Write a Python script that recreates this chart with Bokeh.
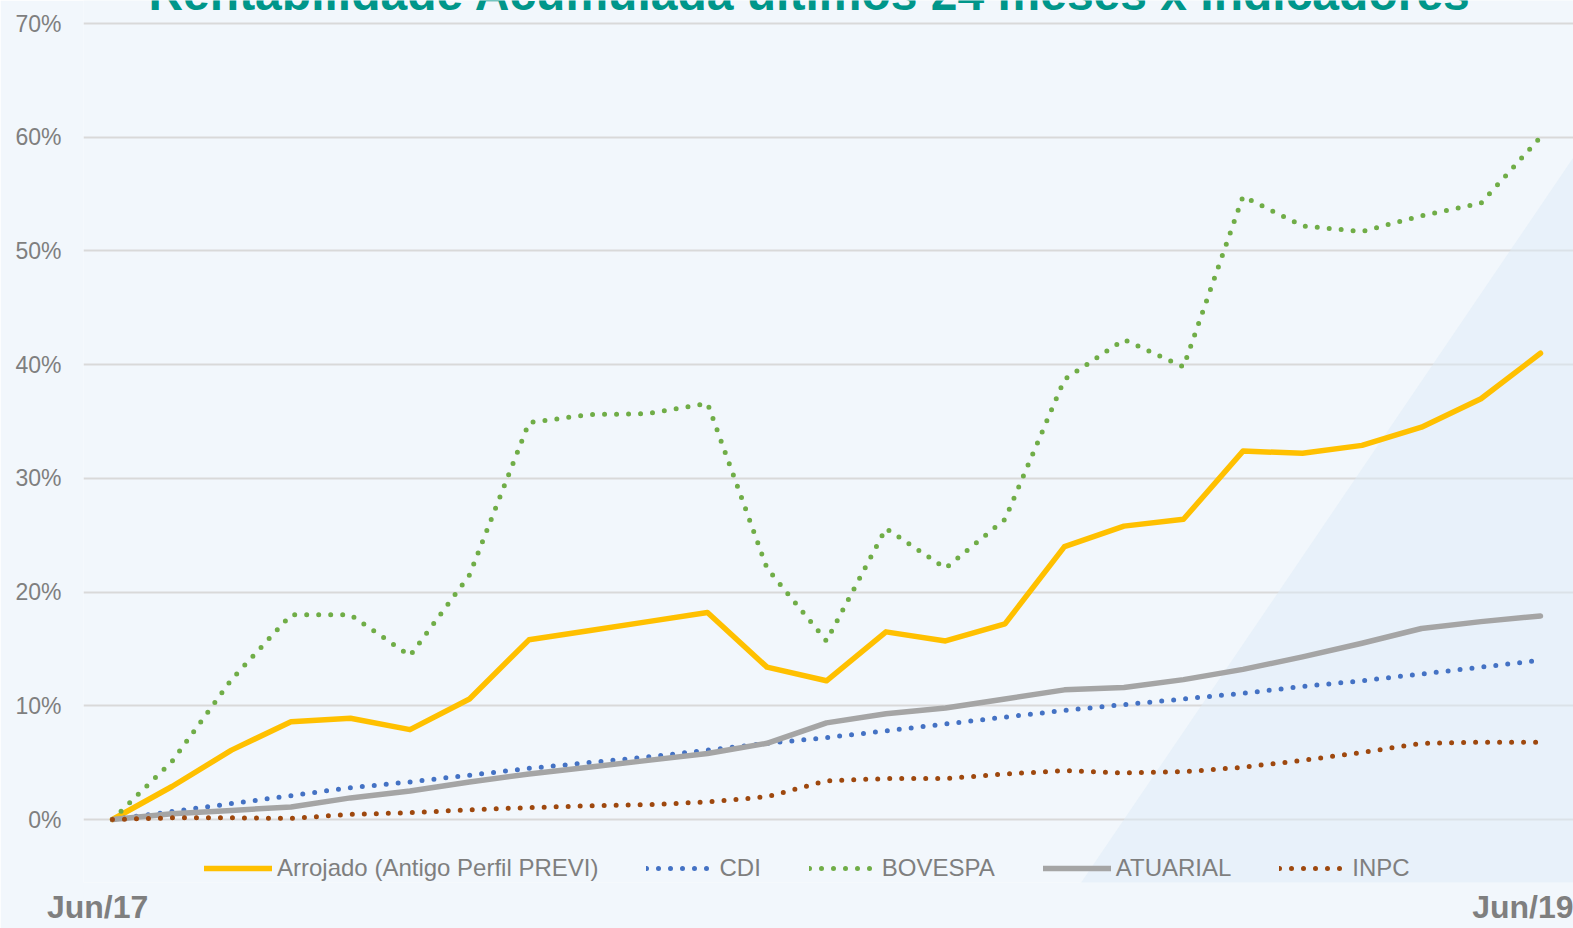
from bokeh.plotting import figure
from bokeh.models import (FixedTicker, PrintfTickFormatter, Legend, LegendItem,
                          Label, PolyAnnotation, Range1d, LinearAxis)
from bokeh.embed import file_html
from bokeh.resources import INLINE

title_text = "Rentabilidade Acumulada últimos 24 meses x Indicadores"
months = ["Jun/17", "Jul/17", "Ago/17", "Set/17", "Out/17", "Nov/17", "Dez/17",
          "Jan/18", "Fev/18", "Mar/18", "Abr/18", "Mai/18", "Jun/18", "Jul/18",
          "Ago/18", "Set/18", "Out/18", "Nov/18", "Dez/18", "Jan/19", "Fev/19",
          "Mar/19", "Abr/19", "Mai/19", "Jun/19"]

arrojado = [0, 2.9, 6.1, 8.6, 8.9, 7.9, 10.6, 15.8, 16.6, 17.4, 18.2, 13.4, 12.2,
            16.5, 15.7, 17.2, 24.0, 25.8, 26.4, 32.4, 32.2, 32.9, 34.5, 37.0, 41.0]
cdi = [0, 0.7, 1.4, 2.1, 2.8, 3.3, 3.9, 4.5, 5.0, 5.5, 6.1, 6.7, 7.2,
       7.8, 8.4, 9.0, 9.6, 10.1, 10.6, 11.1, 11.7, 12.2, 12.8, 13.4, 14.0]
bovespa = [0, 5.1, 12.3, 18.0, 18.0, 14.4, 21.5, 34.9, 35.6, 35.7, 36.6, 22.1, 15.7,
           25.6, 22.1, 26.4, 38.7, 42.2, 39.8, 54.8, 52.2, 51.7, 53.1, 54.2, 60.0]
atuarial = [0, 0.5, 0.8, 1.1, 1.9, 2.5, 3.3, 4.0, 4.6, 5.2, 5.8, 6.7, 8.5,
            9.3, 9.8, 10.6, 11.4, 11.6, 12.3, 13.2, 14.3, 15.5, 16.8, 17.4, 17.9]
inpc = [0, 0.15, 0.15, 0.1, 0.45, 0.6, 0.85, 1.05, 1.2, 1.3, 1.55, 2.0, 3.4,
        3.6, 3.6, 4.0, 4.3, 4.1, 4.2, 4.6, 5.2, 5.9, 6.7, 6.8, 6.8]
series_names = ["Arrojado (Antigo Perfil PREVI)", "CDI", "BOVESPA", "ATUARIAL", "INPC"]
y_ticks = [0, 10, 20, 30, 40, 50, 60, 70]

x = list(range(len(months)))

W, H = 1573, 928
FONT = "Liberation Sans"
GRAY = "#7F7F7F"
BG = "#F2F7FC"
BOTTOM = 46            # height reserved for the period labels
LABEL_SHIFT = -0.25    # period labels sit slightly left of their point

p = figure(width=W, height=H, output_backend="svg", toolbar_location=None,
           x_axis_location=None,
           x_range=Range1d(-0.487, 24.555), y_range=Range1d(-5.54, 72.023),
           min_border_left=83, min_border_right=0, min_border_top=0,
           min_border_bottom=BOTTOM)
p.background_fill_color = BG
p.border_fill_color = BG
p.outline_line_color = None

# background diagonal band (decorative)
band = PolyAnnotation(xs=[957, 1500, 1500], ys=[-60, 740, -60],
                      xs_units="screen", ys_units="screen",
                      fill_color="#DDEBF7", fill_alpha=0.5, line_alpha=0, level="underlay")
p.add_layout(band)

# y axis
p.yaxis.ticker = FixedTicker(ticks=y_ticks)
p.yaxis.formatter = PrintfTickFormatter(format="%d%%")
p.yaxis.axis_line_color = None
p.yaxis.major_tick_line_color = None
p.yaxis.minor_tick_line_color = None
p.yaxis.major_label_text_font = FONT
p.yaxis.major_label_text_font_size = "23px"
p.yaxis.major_label_text_color = GRAY
p.yaxis.major_label_standoff = 16

# x axis: only first and last period
tick_pos = [x[0] + LABEL_SHIFT, x[-1] + LABEL_SHIFT]
xaxis = LinearAxis(ticker=FixedTicker(ticks=tick_pos),
                   major_label_overrides={tick_pos[0]: months[0], tick_pos[1]: months[-1]},
                   axis_line_color=None, major_tick_line_color=None,
                   minor_tick_line_color=None, major_label_standoff=0,
                   major_label_text_line_height=1.0,
                   major_label_text_font=FONT, major_label_text_font_size="32px",
                   major_label_text_font_style="bold", major_label_text_color=GRAY)
p.add_layout(xaxis, "below")

p.xgrid.grid_line_color = None
p.ygrid.grid_line_color = "#D9D9D9"
p.ygrid.grid_line_width = 2

# series
r1 = p.line(x, arrojado, line_color="#FFC000", line_width=5.5, line_join="round", line_cap="round")
r2 = p.line(x, cdi, line_color="#4472C4", line_width=5, line_dash="0 12", line_cap="round")
r3 = p.line(x, bovespa, line_color="#70AD47", line_width=5, line_dash="0 12", line_cap="round")
r4 = p.line(x, atuarial, line_color="#A5A5A5", line_width=5.5, line_join="round", line_cap="round")
r5 = p.line(x, inpc, line_color="#9E480E", line_width=5, line_dash="0 12", line_cap="round")

legend = Legend(items=[LegendItem(label=n, renderers=[r]) for n, r in
                       zip(series_names, [r1, r2, r3, r4, r5])],
                orientation="horizontal", location=(121, 0),
                label_text_font=FONT, label_text_font_size="24px",
                label_text_line_height=1.0,
                label_text_color=GRAY, glyph_width=68, glyph_height=20,
                label_height=20, label_standoff=5, spacing=48, padding=0, margin=0,
                border_line_alpha=0, background_fill_alpha=0)
p.add_layout(legend)

title = Label(x=726.5, y=72.6, x_units="screen", y_units="data", text=title_text,
              text_align="center", text_baseline="middle",
              text_font=FONT, text_font_size="48px", text_font_style="bold",
              text_color="#00968A")
p.add_layout(title)

open("out.html", "w").write(file_html(p, INLINE))
